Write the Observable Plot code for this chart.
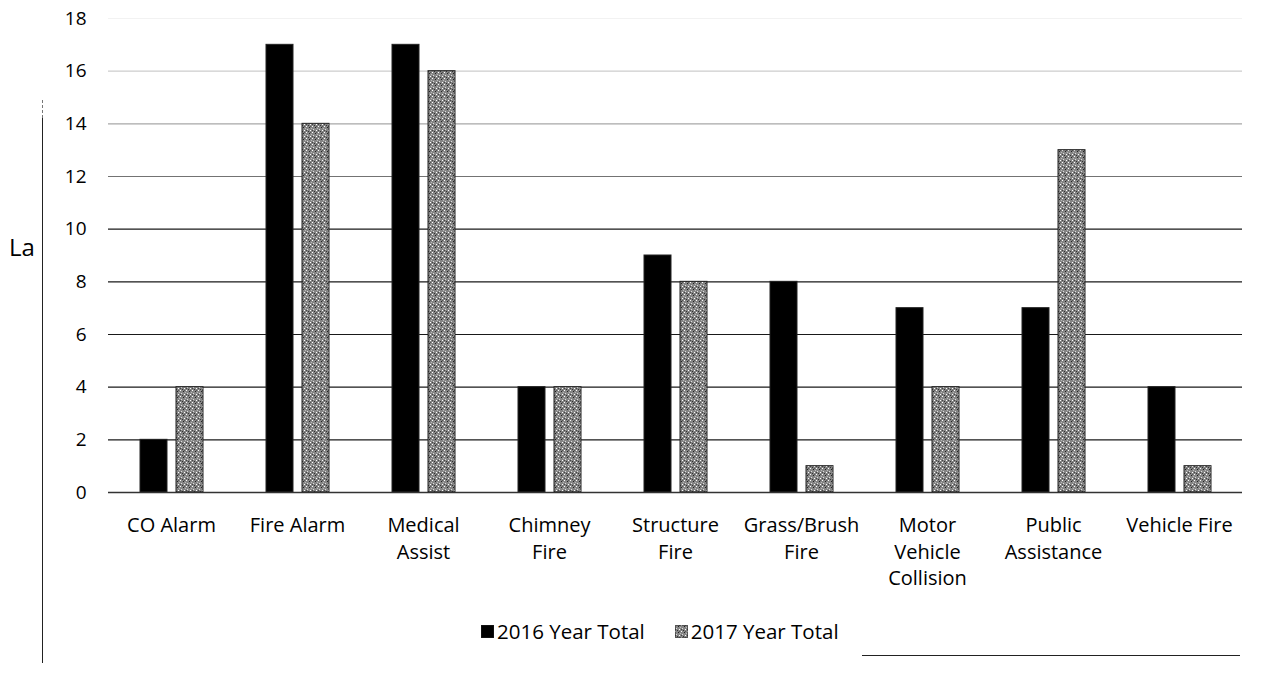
<!DOCTYPE html>
<html>
<head>
<meta charset="utf-8">
<script src="https://cdn.jsdelivr.net/npm/d3@7"></script>
<script src="https://cdn.jsdelivr.net/npm/@observablehq/plot@0.6"></script>
<style>
  html, body { margin: 0; padding: 0; background: #fff; }
  body { width: 1266px; height: 673px; position: relative; overflow: hidden; font-family: "Open Sans", sans-serif; }
  #chart { position: absolute; left: 0; top: 0; }
  #legend { position: absolute; left: 481px; top: 617px; font-size: 20.5px; color: #000; display: flex; gap: 30px; white-space: nowrap; }
  #legend span.item { display: inline-flex; align-items: center; gap: 3px; }
  #ylab { position: absolute; left: 9px; top: 230px; width: 33px; overflow: hidden; font-size: 24px; white-space: nowrap; }
  #vline { position: absolute; left: 42px; top: 118px; width: 0; height: 545px; border-left: 1.5px solid #222; }
  #vline2 { position: absolute; left: 42px; top: 100px; width: 0; height: 18px; border-left: 1px dashed #777; }
  #hline { position: absolute; left: 862px; top: 655px; width: 378px; height: 0; border-top: 1.5px solid #222; }
</style>
</head>
<body>
<div id="chart"></div>
<div id="ylab">La</div>
<div id="vline2"></div>
<div id="vline"></div>
<div id="hline"></div>
<div id="legend"></div>
<script>
const categories = ["CO Alarm", "Fire Alarm", "Medical Assist", "Chimney Fire", "Structure Fire", "Grass/Brush Fire", "Motor Vehicle Collision", "Public Assistance", "Vehicle Fire"];
const categoryLabels = ["CO Alarm", "Fire Alarm", "Medical\nAssist", "Chimney\nFire", "Structure\nFire", "Grass/Brush\nFire", "Motor\nVehicle\nCollision", "Public\nAssistance", "Vehicle Fire"];
const seriesNames = ["2016 Year Total", "2017 Year Total"];
const values2016 = [2, 17, 17, 4, 9, 8, 7, 7, 4];
const values2017 = [4, 14, 16, 4, 8, 1, 4, 13, 1];
const yTicks = [0, 2, 4, 6, 8, 10, 12, 14, 16, 18];

const data = [];
categories.forEach((c, i) => {
  data.push({category: c, series: seriesNames[0], value: values2016[i]});
  data.push({category: c, series: seriesNames[1], value: values2017[i]});
});
const labelOf = new Map(categories.map((c, i) => [c, categoryLabels[i]]));
const gridOpacity = v => v <= 10 ? 0.9 : v === 12 ? 0.55 : v === 14 ? 0.35 : v === 16 ? 0.2 : 0.05;

const chart = Plot.plot({
  width: 1266,
  height: 600,
  marginLeft: 108,
  marginRight: 24,
  marginTop: 18,
  marginBottom: 108,
  style: {fontFamily: "'Open Sans', sans-serif", fontSize: "18px", color: "#000", background: "#fff"},
  y: {domain: [0, 18], ticks: yTicks, label: null},
  x: {domain: seriesNames, axis: null, paddingInner: 0.25, paddingOuter: 0.875},
  fx: {domain: categories, padding: 0, label: null},
  color: {domain: seriesNames, range: ["#000000", "url(#speck)"]},
  marks: [
    Plot.ruleY(yTicks.filter(d => d > 0), {stroke: "#000", strokeWidth: 1.2, strokeOpacity: d => gridOpacity(d)}),
    Plot.barY(data, {fx: "category", x: "series", y: "value", fill: "series", stroke: "#222", strokeWidth: 1}),
    Plot.ruleY([0], {stroke: "#333", strokeWidth: 1.5}),
    Plot.axisY({ticks: yTicks, tickSize: 0, tickPadding: 22, fontSize: 19, label: null}),
    Plot.axisFx({anchor: "bottom", tickSize: 0, tickPadding: 21, fontSize: 20, lineHeight: 1.32, label: null, tickFormat: d => labelOf.get(d)})
  ]
});

// speckled pattern for the 2017 series
const svg = d3.select(chart);
const defs = svg.insert("defs", ":first-child");
const pat = defs.append("pattern").attr("id", "speck").attr("patternUnits", "userSpaceOnUse").attr("width", 6).attr("height", 6);
pat.append("rect").attr("width", 6).attr("height", 6).attr("fill", "#858585");
const dots = [[0,0,"#fff"],[3,1,"#222"],[1,3,"#ddd"],[4,4,"#fff"],[2,5,"#333"],[5,2,"#bbb"],[0,4,"#444"],[4,0,"#555"]];
dots.forEach(([x, y, c]) => pat.append("rect").attr("x", x).attr("y", y).attr("width", 1).attr("height", 1).attr("fill", c));

document.getElementById("chart").appendChild(chart);

// legend
const legend = d3.select("#legend");
seriesNames.forEach((s, i) => {
  const item = legend.append("span").attr("class", "item");
  const sw = item.append("svg").attr("width", 13).attr("height", 13);
  sw.append("rect").attr("width", 13).attr("height", 13).attr("fill", i === 0 ? "#000" : "url(#speck)").attr("stroke", "#222");
  item.append("span").text(s);
});
</script>
</body>
</html>
